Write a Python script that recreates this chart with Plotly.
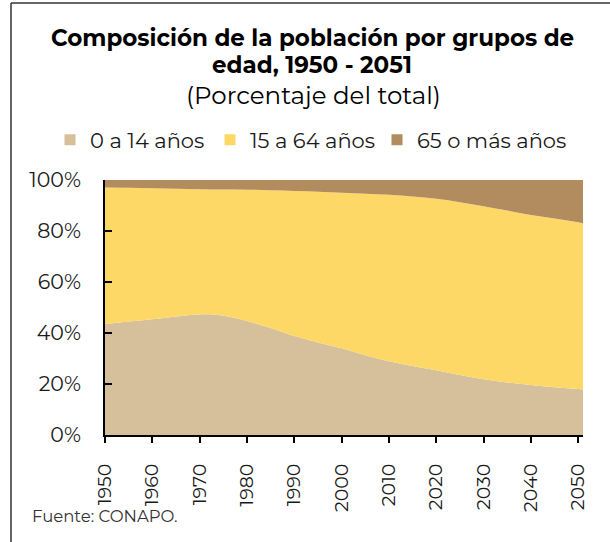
import pandas as pd
import plotly.express as px
import plotly.graph_objects as go

# Population share by age group (% of total)
years = [1950, 1955, 1960, 1965, 1970, 1975, 1980, 1985, 1990, 1995, 2000,
         2005, 2010, 2015, 2020, 2025, 2030, 2035, 2040, 2045, 2050, 2051]
age_0_14 = [43.5, 44.5, 45.4, 46.5, 47.3, 46.8, 44.7, 42.0, 38.8, 36.3, 34.0,
            31.3, 28.9, 27.1, 25.4, 23.5, 21.9, 20.6, 19.6, 18.7, 18.0, 17.8]
age_15_64 = [53.6, 52.5, 51.4, 50.1, 49.1, 49.5, 51.5, 54.0, 56.9, 59.1, 61.0,
             63.3, 65.3, 66.4, 67.2, 67.8, 67.8, 67.4, 66.7, 66.2, 65.4, 65.2]
age_65_plus = [2.9, 3.05, 3.2, 3.4, 3.6, 3.7, 3.8, 4.0, 4.3, 4.6, 5.0,
               5.4, 5.8, 6.5, 7.4, 8.7, 10.3, 12.0, 13.7, 15.1, 16.6, 17.0]

groups = ['0 a 14 años', '15 a 64 años', '65 o más años']
colors = ['#D5C09B', '#FDD866', '#B28C5E']
tick_years = list(range(1950, 2051, 10))
pct_ticks = [0, 20, 40, 60, 80, 100]

df = pd.DataFrame({'Año': years, groups[0]: age_0_14, groups[1]: age_15_64, groups[2]: age_65_plus})
df_long = df.melt(id_vars='Año', var_name='Grupo', value_name='Porcentaje')

font = 'Montserrat, Noto Sans, sans-serif'

# pixel geometry of the plot area
L, R, T, B = 105, 583, 180, 435
W, H = 610, 542
def px_x(p):
    return (p - L) / (R - L)
def px_y(p):
    return (B - p) / (B - T)

fig = px.area(df_long, x='Año', y='Porcentaje', color='Grupo',
              color_discrete_sequence=colors, line_shape='spline')
fig.update_traces(line=dict(width=0), showlegend=False)
for tr, c in zip(fig.data, colors):
    tr.fillcolor = c

# one small legend per group so the row is laid out like the original
legend_names = ['legend', 'legend2', 'legend3']
legend_text_x = [90, 250, 417]
for g, c, lg in zip(groups, colors, legend_names):
    fig.add_trace(go.Scatter(x=[None], y=[None], mode='markers', name=g, legend=lg,
                             marker=dict(symbol='square', size=11, color=c)))

# dummy trace so the overlay axis (inner half of the crossing ticks) is drawn
fig.add_trace(go.Scatter(x=[None], y=[None], xaxis='x2', showlegend=False, hoverinfo='skip'))

legend_style = dict(orientation='h', xanchor='left', y=px_y(140), yanchor='middle',
                    bgcolor='rgba(0,0,0,0)', font=dict(size=21), title_text='')
fig.update_layout(
    width=W, height=H,
    margin=dict(l=L, r=W - R, t=T, b=H - B, autoexpand=False),
    paper_bgcolor='white', plot_bgcolor='white',
    font=dict(family=font, color='#1a1a1a'),
    showlegend=True,
    xaxis2=dict(overlaying='x', matches='x', anchor='y', side='bottom',
                tickvals=tick_years, ticks='inside', ticklen=6, tickwidth=2,
                tickcolor='black', showticklabels=False, showline=False,
                showgrid=False, zeroline=False),
)
for lg, tx in zip(legend_names, legend_text_x):
    fig.update_layout({lg: dict(legend_style, x=px_x(tx - 40))})

fig.update_xaxes(range=[1950, 2051], tickvals=tick_years, tickangle=-90,
                 showline=True, linecolor='black', linewidth=2,
                 ticks='outside', ticklen=6, tickwidth=2, tickcolor='black',
                 tickfont=dict(size=19, color='#1a1a1a'), showgrid=False,
                 title_text='', zeroline=False, ticklabelstandoff=13, selector=dict(anchor='y'))
fig.update_yaxes(range=[0, 100], tickvals=pct_ticks, ticktext=[f'{v}%' for v in pct_ticks],
                 showline=True, linecolor='black', linewidth=2,
                 ticks='inside', ticklen=7, tickwidth=2, tickcolor='black',
                 tickfont=dict(size=20.5, color='#1a1a1a'), showgrid=False,
                 title_text='', zeroline=False, ticklabelstandoff=18)

# title lines
fig.add_annotation(text='<b>Composición de la población por grupos de</b>', xref='paper', yref='paper',
                   x=px_x(312), y=px_y(38), showarrow=False, font=dict(size=23, color='black'),
                   xanchor='center', yanchor='middle')
fig.add_annotation(text='<b>edad, 1950 - 2051</b>', xref='paper', yref='paper',
                   x=px_x(312), y=px_y(65), showarrow=False, font=dict(size=23, color='black'),
                   xanchor='center', yanchor='middle')
fig.add_annotation(text='(Porcentaje del total)', xref='paper', yref='paper',
                   x=px_x(313), y=px_y(95), showarrow=False, font=dict(size=24.5, color='black'),
                   xanchor='center', yanchor='middle')
fig.add_annotation(text='Fuente: CONAPO.', xref='paper', yref='paper',
                   x=px_x(30), y=px_y(516), showarrow=False,
                   font=dict(size=16.5, color='#333'), xanchor='left', yanchor='middle')

# frame lines (top and left)
fig.add_shape(type='line', xref='paper', yref='paper', x0=px_x(11), x1=px_x(W + 2),
              y0=px_y(3), y1=px_y(3), line=dict(color='#333', width=1.5))
fig.add_shape(type='line', xref='paper', yref='paper', x0=px_x(11), x1=px_x(11),
              y0=px_y(3), y1=px_y(H + 2), line=dict(color='#333', width=1.5))

# drop the default 8px page margin so the figure sits at the window corner
fig.write_html('out.html', config={'displayModeBar': False},
               post_script="document.body.style.margin='0';")
